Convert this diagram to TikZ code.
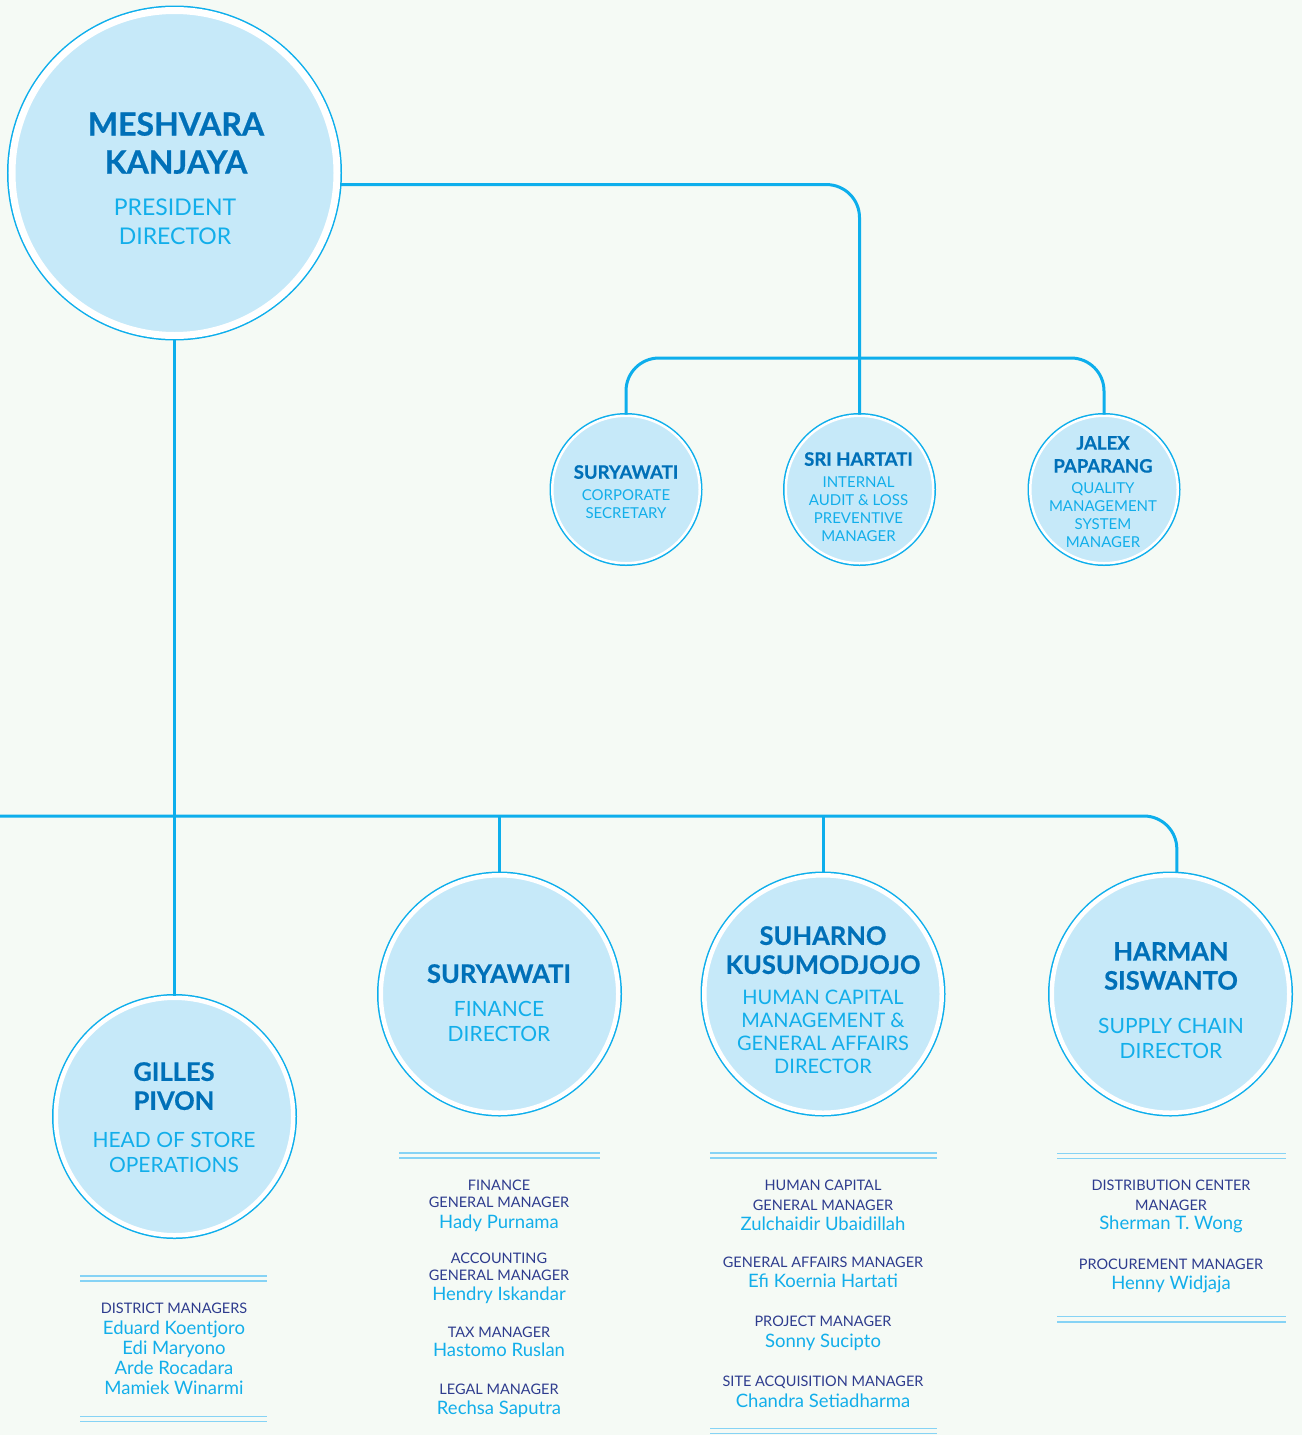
\documentclass[tikz,border=0pt]{standalone}
\usepackage{fontspec}
\setmainfont{Lato}[BoldFeatures={FakeBold=0.6}]

\definecolor{bgcol}{HTML}{F5FAF5}
\definecolor{discfill}{HTML}{C6E9F9}
\definecolor{linecyan}{HTML}{0DAEEC}
\definecolor{namedark}{HTML}{0070B8}
\definecolor{titlecyan}{HTML}{12AEEA}
\definecolor{rolenavy}{HTML}{2E3C8E}
\definecolor{ruleblue}{HTML}{86D3F5}

\tikzset{
  link/.style={draw=linecyan, line width=3pt, rounded corners=33pt},
  disc/.style={circle, fill=discfill, draw=white, line width=#1, inner sep=0pt,
    preaction={draw=linecyan, line width=#1+3pt}},
  bossdisc/.style={disc=7pt, minimum size=325pt},
  dirdisc/.style={disc=4.5pt, minimum size=237.5pt},
  mgrdisc/.style={disc=2.5pt, minimum size=147.5pt},
  bossname/.style={font=\fontsize{32}{38}\selectfont\bfseries, text=namedark, align=center, inner sep=0pt, anchor=north},
  bosstitle/.style={font=\fontsize{23}{29}\selectfont, text=titlecyan, align=center, inner sep=0pt, anchor=north},
  dirname/.style={font=\fontsize{25.5}{29}\selectfont\bfseries, text=namedark, align=center, inner sep=0pt, anchor=north},
  dirtitle/.style={font=\fontsize{21}{25.5}\selectfont, text=titlecyan, align=center, inner sep=0pt, anchor=north},
  mgrname/.style={font=\fontsize{18.5}{23}\selectfont\bfseries, text=namedark, align=center, inner sep=0pt, anchor=north},
  mgrtitle/.style={font=\fontsize{15}{18}\selectfont, text=titlecyan, align=center, inner sep=0pt, anchor=north},
  role/.style={font=\fontsize{14.5}{17.5}\selectfont, text=rolenavy, align=center, inner sep=0pt, anchor=north},
  who/.style={font=\fontsize{18.5}{21}\selectfont, text=titlecyan, inner sep=0pt, anchor=base},
  rule/.style={draw=ruleblue, line width=1.4pt, double=bgcol, double distance=3.7pt}
}

\begin{document}
\begin{tikzpicture}[x=1pt, y=-1pt]
  \fill[bgcol] (0,0) rectangle (1302,1435);
  \useasboundingbox (0,0) rectangle (1302,1435);

  % president
  \node[bossdisc] (pres) at (174.5,173) {};
  \node[bossname] (pres-n) at (176,112) {MESHVARA\\KANJAYA};
  \node[bosstitle] (pres-t) at (175,199) {PRESIDENT\\DIRECTOR};

  % staff under the president
  \node[mgrdisc] (sury) at (626,489.5) {};
  \node[mgrname] (sury-n) at (626,465) {SURYAWATI};
  \node[mgrtitle] (sury-t) at (626,489) {CORPORATE\\SECRETARY};

  \node[mgrdisc] (sri) at (859.5,489.5) {};
  \node[mgrname] (sri-n) at (858.5,452) {SRI HARTATI};
  \node[mgrtitle] (sri-t) at (858.5,477) {INTERNAL\\AUDIT \& LOSS\\PREVENTIVE\\MANAGER};

  \node[mgrdisc] (jalex) at (1104,489.5) {};
  \node[mgrname] (jalex-n) at (1103,436) {JALEX\\PAPARANG};
  \node[mgrtitle] (jalex-t) at (1103,482) {QUALITY\\MANAGEMENT\\SYSTEM\\MANAGER};

  % directors
  \node[dirdisc] (gilles) at (174.5,1116.5) {};
  \node[dirname] (gilles-n) at (174,1062) {GILLES\\PIVON};
  \node[dirtitle] (gilles-t) at (174,1132) {HEAD OF STORE\\OPERATIONS};

  \node[dirdisc] (fin) at (499.5,994) {};
  \node[dirname] (fin-n) at (499,964) {SURYAWATI};
  \node[dirtitle] (fin-t) at (499,1001) {FINANCE\\DIRECTOR};

  \node[dirdisc] (hc) at (823,994) {};
  \node[dirname] (hc-n) at (823,926) {SUHARNO\\KUSUMODJOJO};
  \node[dirtitle, font=\fontsize{20}{22.8}\selectfont] (hc-t) at (823,990) {HUMAN CAPITAL\\MANAGEMENT \&\\GENERAL AFFAIRS\\DIRECTOR};

  \node[dirdisc] (harman) at (1170.5,994) {};
  \node[dirname] (harman-n) at (1171,942) {HARMAN\\SISWANTO};
  \node[dirtitle, font=\fontsize{21}{25}\selectfont] (harman-t) at (1171,1018) {SUPPLY CHAIN\\DIRECTOR};

  % connectors
  \coordinate (topbar) at (860,358);
  \coordinate (leftend) at (0,816);
  \draw[link] (pres.-4.5) -| (sri.north);
  \draw[link] (sury.north) |- (topbar) -| (jalex.north);
  \draw[link] (pres.south) -- (gilles.north);
  \draw[link] (leftend) -| (harman.87.7);
  \draw[link] (fin.north) -- (fin.north |- leftend);
  \draw[link] (hc.north) -- (hc.north |- leftend);

  % district managers
  \draw[rule] (80,1278.5) -- (267,1278.5);
  \node[role] (gilles-r) at (174,1302.7) {DISTRICT MANAGERS};
  \foreach \nm/\yy [count=\i] in {Eduard Koentjoro/1334, Edi Maryono/1354.2, Arde Rocadara/1374.3, Mamiek Winarmi/1394.3}
    \node[who] (gilles-p\i) at (174,\yy) {\nm};
  \draw[rule] (80,1419) -- (267,1419);

  % finance
  \draw[rule] (399,1155.4) -- (600,1155.4);
  \node[role] (fin-r1) at (499,1179.5) {FINANCE\\GENERAL MANAGER};
  \node[who] (fin-p1) at (499,1228) {Hady Purnama};
  \node[role] (fin-r2) at (499,1252.7) {ACCOUNTING\\GENERAL MANAGER};
  \node[who] (fin-p2) at (499,1300) {Hendry Iskandar};
  \node[role] (fin-r3) at (499,1326.7) {TAX MANAGER};
  \node[who] (fin-p3) at (499,1356.5) {Hastomo Ruslan};
  \node[role] (fin-r4) at (499,1383.3) {LEGAL MANAGER};
  \node[who] (fin-p4) at (499,1414) {Rechsa Saputra};

  % human capital
  \draw[rule] (710,1155.5) -- (937,1155.5);
  \node[role] (hc-r1) at (823,1179.3) {HUMAN CAPITAL\\[2.5pt]GENERAL MANAGER};
  \node[who] (hc-p1) at (823,1230) {Zulchaidir Ubaidillah};
  \node[role] (hc-r2) at (823,1256.7) {GENERAL AFFAIRS MANAGER};
  \node[who] (hc-p2) at (823,1287.7) {Efi Koernia Hartati};
  \node[role] (hc-r3) at (823,1316) {PROJECT MANAGER};
  \node[who] (hc-p3) at (823,1347.3) {Sonny Sucipto};
  \node[role] (hc-r4) at (823,1376) {SITE ACQUISITION MANAGER};
  \node[who] (hc-p4) at (823,1407.3) {Chandra Setiadharma};
  \draw[rule] (710,1431) -- (937,1431);

  % supply chain
  \draw[rule] (1057,1155.8) -- (1286,1155.8);
  \node[role] (harman-r1) at (1171,1179.3) {DISTRIBUTION CENTER\\[2.5pt]MANAGER};
  \node[who] (harman-p1) at (1171,1229.3) {Sherman T. Wong};
  \node[role] (harman-r2) at (1171,1258.3) {PROCUREMENT MANAGER};
  \node[who] (harman-p2) at (1171,1289.3) {Henny Widjaja};
  \draw[rule] (1057,1319.3) -- (1286,1319.3);
\end{tikzpicture}
\end{document}
